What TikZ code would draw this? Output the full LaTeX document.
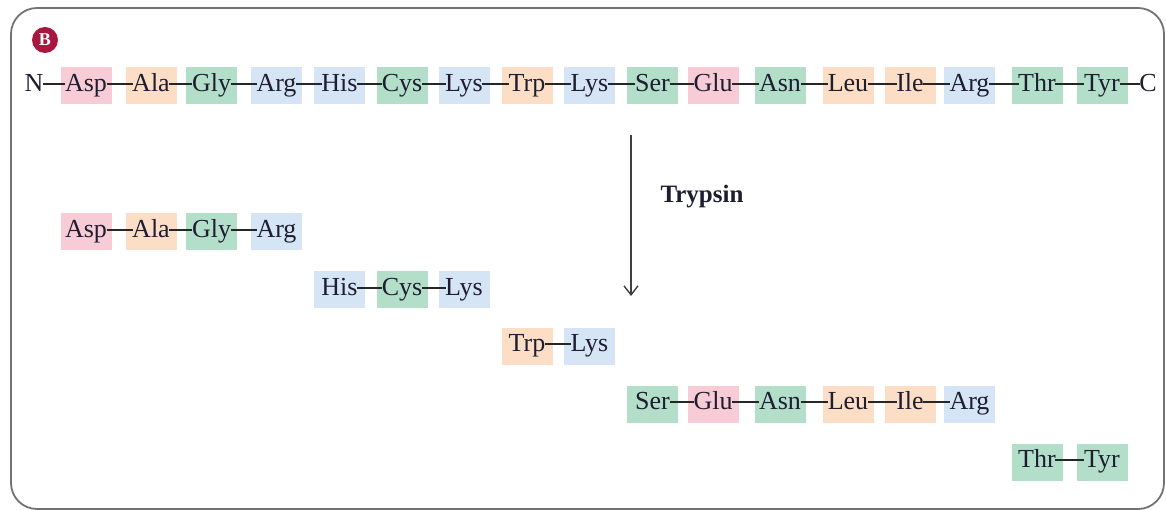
\documentclass[tikz,border=0pt]{standalone}
\usepackage{fontspec}
\setmainfont{Liberation Serif}
\usetikzlibrary{arrows.meta}
\definecolor{pk}{HTML}{F8CCD6}
\definecolor{orn}{HTML}{FCDDC6}
\definecolor{grn}{HTML}{B3DFCA}
\definecolor{blu}{HTML}{D5E5F5}
\definecolor{txt}{HTML}{1E1E30}
\definecolor{bred}{HTML}{A8173E}
\newcommand{\resid}[5]{%
  \node[resbox, fill=#4] (#1box) at (#2,#3) {};
  \node[lbl] (#1) at (#2,#3) {#5};}
\begin{document}
\begin{tikzpicture}[x=1pt,y=-1pt,
  lbl/.style={inner sep=0pt, text=txt, font=\fontsize{26}{26}\selectfont, text height=17pt, text depth=5.5pt},
  resbox/.style={minimum width=51pt, minimum height=37pt, inner sep=0pt},
  bond/.style={line width=1.3pt, draw=black!85, shorten <=-0.5pt, shorten >=-0.5pt},
  frame/.style={draw=black!55, line width=1.8pt, rounded corners=26pt},
  badge/.style={circle, fill=bred, minimum size=26pt, inner sep=0pt, text=white, font=\bfseries\fontsize{18}{18}\selectfont},
  enz/.style={inner sep=0pt, text=txt, font=\bfseries\fontsize{25}{25}\selectfont},
  cut/.style={draw=black!75, line width=1.4pt, -{Straight Barb[length=9pt,width=14pt,line width=1.4pt]}}
]
\useasboundingbox (0,0) rectangle (1166,510);
\draw[frame] (11,8) rectangle (1164,509);
\node[badge] (badge) at (45,40) {B};

% top chain
\node[lbl] (N) at (34,86) {N};
\resid{t1}{86}{86}{pk}{Asp}
\resid{t2}{151}{86}{orn}{Ala}
\resid{t3}{211.5}{86}{grn}{Gly}
\resid{t4}{276.5}{86}{blu}{Arg}
\resid{t5}{339.5}{86}{blu}{His}
\resid{t6}{402}{86}{grn}{Cys}
\resid{t7}{464}{86}{blu}{Lys}
\resid{t8}{527}{86}{orn}{Trp}
\resid{t9}{589.5}{86}{blu}{Lys}
\resid{t10}{652.5}{86}{grn}{Ser}
\resid{t11}{713}{86}{pk}{Glu}
\resid{t12}{780}{86}{grn}{Asn}
\resid{t13}{848}{86}{orn}{Leu}
\resid{t14}{910}{86}{orn}{Ile}
\resid{t15}{969.5}{86}{blu}{Arg}
\resid{t16}{1037}{86}{grn}{Thr}
\resid{t17}{1102}{86}{grn}{Tyr}
\node[lbl] (C) at (1148,86) {C};
\foreach \a/\b in {N/t1,t1/t2,t2/t3,t3/t4,t4/t5,t5/t6,t6/t7,t7/t8,t8/t9,t9/t10,t10/t11,t11/t12,t12/t13,t13/t14,t14/t15,t15/t16,t16/t17,t17/C}
  \draw[bond] ([yshift=2pt]\a.east) -- ([yshift=2pt]\b.west);

% arrow
\coordinate (arS) at (631,135);
\coordinate (arE) at (631,296);
\draw[cut] (arS) -- (arE);
\node[enz] (tryp) at (702,197) {Trypsin};

% fragment 1
\resid{a1}{86}{232}{pk}{Asp}
\resid{a2}{151}{232}{orn}{Ala}
\resid{a3}{211.5}{232}{grn}{Gly}
\resid{a4}{276.5}{232}{blu}{Arg}
\foreach \a/\b in {a1/a2,a2/a3,a3/a4}
  \draw[bond] ([yshift=2pt]\a.east) -- ([yshift=2pt]\b.west);

% fragment 2
\resid{b1}{339.5}{290}{blu}{His}
\resid{b2}{402}{290}{grn}{Cys}
\resid{b3}{464}{290}{blu}{Lys}
\foreach \a/\b in {b1/b2,b2/b3}
  \draw[bond] ([yshift=2pt]\a.east) -- ([yshift=2pt]\b.west);

% fragment 3
\resid{c1}{527}{346}{orn}{Trp}
\resid{c2}{589.5}{346}{blu}{Lys}
\draw[bond] ([yshift=2pt]c1.east) -- ([yshift=2pt]c2.west);

% fragment 4
\resid{d1}{652.5}{404}{grn}{Ser}
\resid{d2}{713}{404}{pk}{Glu}
\resid{d3}{780}{404}{grn}{Asn}
\resid{d4}{848}{404}{orn}{Leu}
\resid{d5}{910}{404}{orn}{Ile}
\resid{d6}{969.5}{404}{blu}{Arg}
\foreach \a/\b in {d1/d2,d2/d3,d3/d4,d4/d5,d5/d6}
  \draw[bond] ([yshift=2pt]\a.east) -- ([yshift=2pt]\b.west);

% fragment 5
\resid{e1}{1037}{462}{grn}{Thr}
\resid{e2}{1102}{462}{grn}{Tyr}
\draw[bond] ([yshift=2pt]e1.east) -- ([yshift=2pt]e2.west);
\end{tikzpicture}
\end{document}
